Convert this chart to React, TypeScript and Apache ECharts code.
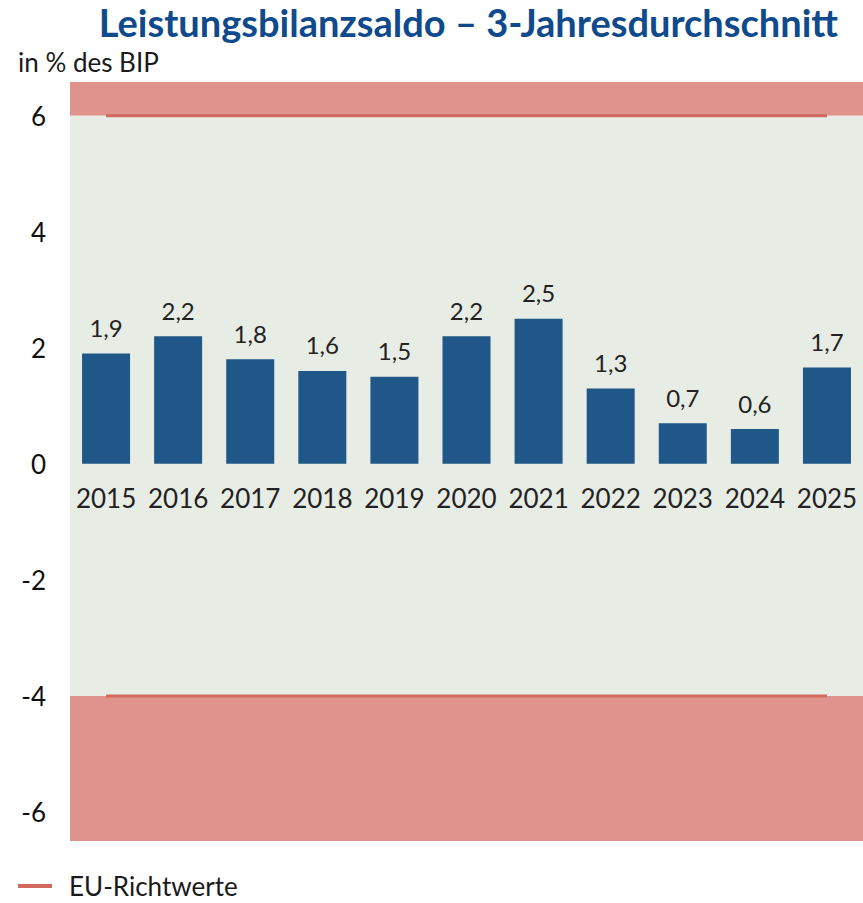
import React, { useEffect, useRef } from "react";
import * as echarts from "echarts";

const years = ["2015", "2016", "2017", "2018", "2019", "2020", "2021", "2022", "2023", "2024", "2025"];
const saldo = [1.9, 2.2, 1.8, 1.6, 1.5, 2.2, 2.5, 1.3, 0.7, 0.6, 1.66];
const upperLimit = 6;
const lowerLimit = -4;
const yMin = -6.5;
const yMax = 6.58;
const titleText = "Leistungsbilanzsaldo – 3-Jahresdurchschnitt";
const unitText = "in % des BIP";
const legendName = "EU-Richtwerte";

const FONT = "Lato, 'Open Sans', sans-serif";

const GRID_TOP = 82;
const GRID_BOTTOM = 62;
const HEIGHT = 903;
const plotH = HEIGHT - GRID_TOP - GRID_BOTTOM;
// distance from grid bottom up to the zero line
const zeroOffset = (plotH * (0 - yMin)) / (yMax - yMin);

export default function App() {
  const ref = useRef<HTMLDivElement>(null);
  useEffect(() => {
    if (!ref.current) return;
    const chart = echarts.init(ref.current, null, { renderer: "svg" });
    chart.setOption({
      animation: false,
      textStyle: { fontFamily: FONT },
      graphic: [
        {
          type: "text",
          right: 25,
          top: 3,
          style: { text: titleText, font: `bold 38px ${FONT}`, fill: "#0f4a8c" },
        },
        {
          type: "text",
          left: 18,
          top: 49,
          style: { text: unitText, font: `26px ${FONT}`, fill: "#1a1a1a" },
        },
      ],
      legend: {
        left: 18,
        top: 872,
        padding: 0,
        itemWidth: 34,
        itemHeight: 4,
        icon: "rect",
        data: [legendName],
        textStyle: { fontSize: 26, lineHeight: 28, color: "#1a1a1a", fontFamily: FONT, padding: [0, 0, 0, 12] },
      },
      grid: { left: 70, right: 0, top: GRID_TOP, bottom: GRID_BOTTOM },
      xAxis: {
        type: "category",
        data: years,
        offset: -zeroOffset,
        axisLine: { show: false, onZero: false },
        axisTick: { show: false },
        axisLabel: { fontSize: 26, color: "#222", margin: 21, fontFamily: FONT, interval: 0 },
      },
      yAxis: {
        type: "value",
        min: yMin,
        max: yMax,
        interval: 0.5,
        splitLine: { show: false },
        axisLine: { show: false },
        axisTick: { show: false },
        axisLabel: {
          fontSize: 26,
          color: "#111",
          margin: 24,
          fontFamily: FONT,
          formatter: (v: number) => (Math.abs(v % 2) < 1e-9 ? String(v) : ""),
        },
      },
      series: [
        {
          type: "bar",
          data: saldo,
          barWidth: 48,
          z: 3,
          itemStyle: { color: "#1f5788" },
          label: {
            show: true,
            position: "top",
            distance: 14,
            fontSize: 24,
            color: "#222",
            fontFamily: FONT,
            formatter: (p: any) => p.value.toFixed(1).replace(".", ","),
          },
          markArea: {
            silent: true,
            z: 0,
            data: [
              [{ yAxis: upperLimit, itemStyle: { color: "#e0938d" } }, { yAxis: yMax }],
              [{ yAxis: lowerLimit, itemStyle: { color: "#e7ece5" } }, { yAxis: upperLimit }],
              [{ yAxis: yMin, itemStyle: { color: "#e0938d" } }, { yAxis: lowerLimit }],
            ],
          },
        },
        {
          type: "line",
          name: legendName,
          data: years.map(() => upperLimit),
          symbol: "none",
          z: 2,
          lineStyle: { color: "#d06a5e", width: 3 },
          itemStyle: { color: "#d06a5e" },
        },
        {
          type: "line",
          name: legendName,
          data: years.map(() => lowerLimit),
          symbol: "none",
          z: 2,
          lineStyle: { color: "#d06a5e", width: 3 },
          itemStyle: { color: "#d06a5e" },
        },
      ],
    });
    return () => chart.dispose();
  }, []);
  return <div ref={ref} style={{ width: 863, height: 903, position: "absolute", left: 0, top: 0 }} />;
}
